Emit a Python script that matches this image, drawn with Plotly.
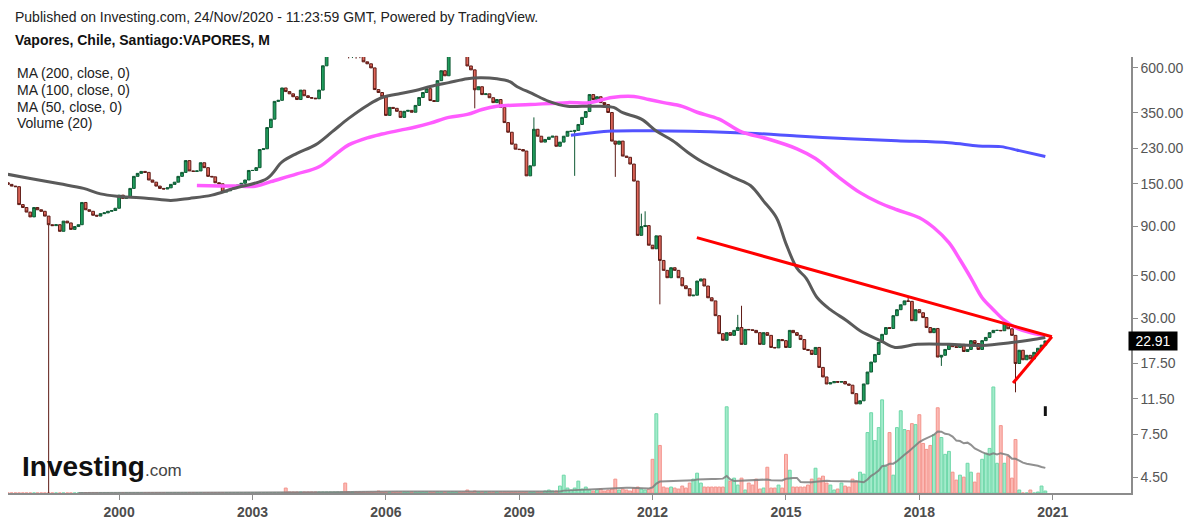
import numpy as np
import pandas as pd
import plotly.graph_objects as go

# ---------------- data ----------------
# Monthly closes (CLP). First bar Jul-1997, last bar Nov-2020.
close_1997 = [149, 146, 145, 117, 113, 107]
close_1998 = [101, 113, 110, 108, 102, 92, 91, 92, 85, 96, 94, 87]
close_1999 = [90, 92, 120, 110, 108, 103, 102, 105, 106, 108, 109, 112]
close_2000 = [131, 126, 128, 142, 164, 170, 174, 172, 157, 153, 146, 142]
close_2001 = [141, 143, 149, 153, 164, 172, 198, 175, 174, 175, 193, 182]
close_2002 = [164, 163, 152, 150, 136, 138, 141, 144, 148, 151, 157, 176]
close_2003 = [176, 182, 226, 228, 294, 325, 402, 407, 472, 452, 440, 425]
close_2004 = [411, 460, 430, 421, 418, 415, 460, 615, 700, 800, 850, 880]
close_2005 = [900, 820, 760, 790, 740, 720, 645, 630, 600, 463, 447, 425]
close_2006 = [340, 374, 370, 357, 332, 357, 361, 353, 383, 421, 447, 468]
close_2007 = [406, 402, 515, 580, 546, 700, 760, 800, 780, 740, 614, 586]
close_2008 = [462, 479, 436, 440, 420, 396, 411, 374, 312, 278, 241, 227]
close_2009 = [226, 222, 165, 186, 288, 265, 247, 255, 262, 265, 235, 247]
close_2010 = [265, 281, 281, 284, 305, 332, 356, 436, 411, 425, 396, 387]
close_2011 = [352, 250, 241, 250, 209, 206, 190, 155, 81, 90, 91, 72]
close_2012 = [69, 80.5, 60, 53.3, 48.8, 55, 53.3, 48.8, 44.3, 42.8, 39.3, 39.6]
close_2013 = [46.9, 48.1, 44.2, 38.4, 37.0, 31.0, 25.0, 23.1, 25.3, 24.5, 26.0, 26.9]
close_2014 = [22.0, 26.3, 26.2, 26.0, 25.3, 22.0, 25.3, 24.5, 21.2, 21.1, 23.3, 23.0]
close_2015 = [21.2, 26.0, 25.3, 24.5, 23.3, 20.7, 20.5, 19.5, 21.2, 16.7, 14.9, 13.7]
close_2016 = [13.9, 14.1, 14.0, 14.1, 13.7, 13.5, 12.2, 10.8, 11.2, 13.7, 15.8, 17.8]
close_2017 = [19.5, 22.5, 24.8, 26.9, 26.6, 31.0, 33.3, 35.3, 37.0, 36.8, 29.2, 33.3]
close_2018 = [32.1, 30.3, 26.9, 25.3, 26.6, 18.9, 19.3, 20.7, 22.2, 21.4, 21.2, 22.0]
close_2019 = [20.2, 20.7, 23.0, 22.2, 20.7, 23.0, 23.9, 25.3, 26.0, 26.0, 25.9, 28.2]
close_2020 = [26.5, 24.5, 17.5, 20.5, 18.3, 19.3, 18.5, 20.0, 21.0, 21.8, 22.91]
first_open = 152

# visible wick extremes (month -> price)
wick_high = {"2009-05": 332, "2011-10": 105, "2011-11": 108, "2013-12": 31.3,
             "2014-01": 34.9, "2017-10": 38.5}
wick_low = {"1998-06": 3.0, "2005-03": 672, "2005-04": 675, "2005-05": 670,
            "2005-06": 674, "2008-01": 370, "2010-04": 165, "2011-03": 163,
            "2012-03": 35.5, "2018-07": 17.0, "2020-03": 12.4}

# monthly volume (relative units)
vol_1997 = [0, 0, 0, 0, 0, 0]
vol_1998 = [0, 0, 0, 0, 0, 0, 0, 0, 0, 0, 0, 0]
vol_1999 = [0, 0, 0, 0, 0, 0, 0, 0, 0, 0, 0, 0]
vol_2000 = [0, 0, 0, 0, 0, 0, 0, 0, 0, 0, 0, 0]
vol_2001 = [0, 0, 0, 0, 0, 0, 0, 0, 0, 0, 0, 0]
vol_2002 = [0, 0, 0, 0, 0, 0, 0, 0, 0, 0, 0, 0]
vol_2003 = [0, 0, 0, 0, 0, 0, 0, 0, 0, 5, 1, 1]
vol_2004 = [1, 1, 1, 1, 1, 1, 1, 1, 1, 1, 1, 1]
vol_2005 = [1, 10, 1, 1, 1, 1, 1, 1, 1, 1, 2, 1]
vol_2006 = [1, 1, 1, 1, 1, 1, 1, 1, 1, 1, 1, 1]
vol_2007 = [1, 1, 1, 1, 1, 1, 1, 1, 1, 1, 3, 1]
vol_2008 = [2, 1, 1, 1, 1, 1, 1, 1, 1, 1, 1, 1]
vol_2009 = [1, 1, 1, 1, 1, 1, 1, 2, 3, 2, 2, 7]
vol_2010 = [18, 5, 3, 5, 12, 4, 6, 3, 2, 3, 4, 2]
vol_2011 = [3, 4, 14, 3, 4, 3, 2, 5, 6, 4, 3, 4]
vol_2012 = [34, 80, 48, 6, 5, 6, 5, 4, 7, 5, 10, 14]
vol_2013 = [20, 10, 6, 6, 6, 6, 6, 6, 87, 12, 15, 8]
vol_2014 = [15, 3, 10, 8, 14, 4, 5, 26, 5, 5, 8, 5]
vol_2015 = [39, 23, 6, 6, 6, 6, 8, 14, 25, 15, 17, 10]
vol_2016 = [8, 3, 4, 10, 7, 6, 14, 12, 21, 19, 61, 81]
vol_2017 = [53, 66, 94, 27, 61, 18, 66, 83, 64, 63, 70, 69]
vol_2018 = [79, 50, 44, 48, 59, 86, 56, 39, 42, 21, 13, 18]
vol_2019 = [16, 30, 21, 11, 20, 34, 40, 45, 107, 30, 68, 30]
vol_2020 = [37, 15, 54, 3, 0, 0, 3, 0, 1, 7, 2]

# moving averages as drawn on the chart
ma50_dates = ["1997-07-01", "1998-01-01", "1998-09-01", "1999-03-15", "1999-08-01",
              "2000-01-01", "2000-09-01", "2001-03-01", "2001-08-01", "2002-02-01",
              "2002-08-01", "2003-05-01", "2003-09-01", "2004-01-01", "2004-06-01",
              "2004-10-15", "2005-03-01", "2005-08-01", "2005-12-01", "2006-05-01",
              "2006-09-01", "2007-01-01", "2007-06-01", "2007-11-01", "2008-02-15",
              "2008-07-01", "2008-10-15", "2008-12-15", "2009-04-15", "2009-09-01",
              "2010-02-01", "2010-06-01", "2010-11-01", "2011-02-15", "2011-05-01",
              "2011-10-01", "2012-02-01", "2012-06-15", "2012-10-15", "2013-02-01",
              "2013-07-01", "2013-11-15", "2014-03-15", "2014-07-01", "2014-10-15",
              "2015-01-01", "2015-04-01", "2015-06-15", "2015-09-15", "2016-01-01",
              "2016-05-15", "2016-09-01", "2017-02-15", "2017-06-15", "2017-12-15",
              "2018-09-01", "2019-06-01", "2020-01-15", "2020-07-01", "2020-11-01"]
ma50_vals = [168, 160, 150, 142, 133, 129, 126, 123, 126, 131,
             142, 160, 195, 216, 239, 279, 328, 383, 421, 442,
             458, 480, 503, 527, 533, 527, 509, 479, 442, 402,
             379, 379, 379, 374, 351, 325, 282, 251, 219, 197,
             176, 160, 147, 122, 100, 73.4, 54.7, 48.6, 38.4, 33.3,
             29.2, 25.9, 23.0, 21.2, 22.0, 22.0, 21.7, 22.4, 23.2, 23.9]

ma100_dates = ["2001-10-01", "2002-08-01", "2003-02-01", "2003-06-01", "2004-01-01",
               "2004-07-01", "2004-12-01", "2005-03-01", "2005-08-01", "2005-12-01",
               "2006-05-01", "2006-09-01", "2007-01-01", "2007-06-01", "2007-11-01",
               "2008-03-01", "2008-07-01", "2009-04-01", "2010-02-01", "2010-08-01",
               "2011-02-01", "2011-08-01", "2011-12-01", "2012-04-01", "2012-09-01",
               "2013-01-01", "2013-07-01", "2014-01-01", "2014-08-01", "2015-04-01",
               "2015-09-01", "2016-03-01", "2016-09-01", "2017-02-01", "2017-07-01",
               "2018-01-01", "2018-05-01", "2018-09-01", "2018-12-01", "2019-03-01",
               "2019-06-01", "2019-09-01", "2019-12-01", "2020-03-01", "2020-07-01",
               "2020-11-01"]
ma100_vals = [147, 146, 146, 154, 169, 184, 218, 239, 260, 272,
              285, 296, 310, 332, 344, 365, 379, 387, 396, 396,
              421, 426, 411, 396, 379, 353, 325, 279, 257, 228,
              203, 164, 135, 120, 110, 100, 88.7, 74.2, 60.5, 48.6,
              38.4, 33.3, 29.3, 26.9, 25.3, 24.4]

ma200_dates = ["2010-03-01", "2011-02-01", "2012-05-01", "2014-03-01", "2015-04-01",
               "2016-06-01", "2017-07-01", "2018-09-01", "2019-05-01", "2019-11-01",
               "2020-04-01", "2020-11-01"]
ma200_vals = [268, 282, 282, 275, 266, 257, 251, 245, 236, 234, 223, 208]

# hand-drawn triangle (red lines)
trend_dates = ["2012-12-30", "2020-12-25"]
trend_vals = [78.8, 24.1]
support_dates = ["2020-02-10", "2020-12-25"]
support_vals = [13.85, 24.1]

price_ticks = [4.5, 7.5, 11.5, 17.5, 30, 50, 90, 150, 230, 350, 600]

# ---------------- build series ----------------
closes = (close_1997 + close_1998 + close_1999 + close_2000 + close_2001 + close_2002 +
          close_2003 + close_2004 + close_2005 + close_2006 + close_2007 + close_2008 +
          close_2009 + close_2010 + close_2011 + close_2012 + close_2013 + close_2014 +
          close_2015 + close_2016 + close_2017 + close_2018 + close_2019 + close_2020)
volumes = (vol_1997 + vol_1998 + vol_1999 + vol_2000 + vol_2001 + vol_2002 + vol_2003 +
           vol_2004 + vol_2005 + vol_2006 + vol_2007 + vol_2008 + vol_2009 + vol_2010 +
           vol_2011 + vol_2012 + vol_2013 + vol_2014 + vol_2015 + vol_2016 + vol_2017 +
           vol_2018 + vol_2019 + vol_2020)
dates = pd.date_range("1997-07-01", periods=len(closes), freq="MS")
opens = [first_open] + closes[:-1]
highs = [max(o, c) for o, c in zip(opens, closes)]
lows = [min(o, c) for o, c in zip(opens, closes)]
for i, k in enumerate(dates.strftime("%Y-%m")):
    if k in wick_high:
        highs[i] = wick_high[k]
    if k in wick_low:
        lows[i] = wick_low[k]

up = [c >= o for o, c in zip(opens, closes)]
vol_fill = ["#a3ebcb" if u else "#fbbab5" for u in up]
vol_edge = ["#6fd8a9" if u else "#f4948c" for u in up]
vol_ma = pd.Series(volumes, dtype=float).rolling(20, min_periods=20).mean()

# ---------------- figure ----------------
PL, PR, PT, PB = 8, 1131, 57, 497


def paper_xy(px, py):
    return (px - PL) / (PR - PL), (PB - py) / (PB - PT)


fig = go.Figure()
fig.add_trace(go.Bar(x=dates, y=volumes, yaxis="y",
                     marker=dict(color=vol_fill, line=dict(color=vol_edge, width=1)),
                     hoverinfo="skip"))
fig.add_trace(go.Scatter(x=dates, y=vol_ma, yaxis="y", mode="lines",
                         line=dict(color="rgba(125,125,125,0.85)", width=2),
                         hoverinfo="skip"))
fig.add_trace(go.Candlestick(x=dates, open=opens, high=highs, low=lows, close=closes,
                             yaxis="y2", whiskerwidth=0,
                             increasing=dict(line=dict(color="#0f5a34", width=1),
                                             fillcolor="#1f9d5c"),
                             decreasing=dict(line=dict(color="#5e1b16", width=1),
                                             fillcolor="#e0675a")))
fig.add_trace(go.Scatter(x=ma200_dates, y=ma200_vals, yaxis="y2", mode="lines",
                         line=dict(color="#5353ff", width=3, shape="spline")))
fig.add_trace(go.Scatter(x=ma100_dates, y=ma100_vals, yaxis="y2", mode="lines",
                         line=dict(color="#ff5cff", width=3.5, shape="spline")))
fig.add_trace(go.Scatter(x=ma50_dates, y=ma50_vals, yaxis="y2", mode="lines",
                         line=dict(color="#5a5a5a", width=3, shape="spline")))
fig.add_trace(go.Scatter(x=trend_dates, y=trend_vals, yaxis="y2", mode="lines",
                         line=dict(color="#ff0000", width=3)))
fig.add_trace(go.Scatter(x=support_dates, y=support_vals, yaxis="y2", mode="lines",
                         line=dict(color="#ff0000", width=3)))
fig.add_trace(go.Scatter(x=[dates[-1]], y=[9.9], yaxis="y2", mode="markers",
                         marker=dict(symbol="line-ns", size=7,
                                     line=dict(color="#111", width=3))))

annotations = []
hx, hy = paper_xy(13, 17)
annotations.append(dict(x=hx, y=hy, text="Published on Investing.com, 24/Nov/2020 - 11:23:59 GMT, Powered by TradingView.",
                        font=dict(size=14, color="#222")))
hx, hy = paper_xy(13, 40)
annotations.append(dict(x=hx, y=hy, text="<b>Vapores, Chile, Santiago:VAPORES, M</b>",
                        font=dict(size=14, color="#111")))
for i, lbl in enumerate(["MA (200, close, 0)", "MA (100, close, 0)", "MA (50, close, 0)", "Volume (20)"]):
    lx, ly = paper_xy(15, 73 + 17 * i)
    annotations.append(dict(x=lx, y=ly, text=lbl, font=dict(size=14, color="#222")))
gx, gy = paper_xy(20, 470)
annotations.append(dict(x=gx, y=gy,
                        text="<b>Investing</b><span style='font-size:17px;color:#444;font-weight:normal'>.com</span>",
                        font=dict(size=28, color="#111")))
for a in annotations:
    a.update(xref="paper", yref="paper", xanchor="left", yanchor="middle", showarrow=False)

annotations.append(dict(xref="paper", x=1.0, xshift=-3, xanchor="left",
                        yref="y2", y=float(np.log10(closes[-1])), yanchor="middle",
                        text=f"{closes[-1]:.2f}", showarrow=False,
                        width=46, height=16, align="center",
                        bgcolor="#000000", borderpad=1,
                        font=dict(size=14, color="#ffffff")))

fig.update_layout(
    width=1193, height=528,
    margin=dict(l=PL, r=1193 - PR, t=PT, b=528 - PB),
    paper_bgcolor="white", plot_bgcolor="white",
    showlegend=False, boxgap=0.2, boxgroupgap=0, bargap=0.15,
    font=dict(family="Liberation Sans, Arial, sans-serif"),
    annotations=annotations,
    xaxis=dict(type="date", range=["1997-07-02", "2022-10-06"],
               tick0="2000-01-01", dtick="M36", tickformat="%Y",
               showgrid=False, zeroline=False, showline=True,
               linecolor="#8c8c8c", linewidth=2, ticks="outside", ticklen=5,
               tickcolor="#8c8c8c",
               tickfont=dict(size=14, color="#4d4d4d", weight="bold"),
               rangeslider=dict(visible=False)),
    yaxis=dict(range=[0, 440], visible=False, fixedrange=True),
    yaxis2=dict(type="log", overlaying="y", side="right", anchor="x",
                range=[0.5705, 2.8347], tickvals=price_ticks,
                ticktext=[f"{v:.2f}" for v in price_ticks],
                showgrid=False, zeroline=False, showline=True,
                linecolor="#8c8c8c", linewidth=1.5, ticks="outside", ticklen=5,
                tickcolor="#8c8c8c", tickfont=dict(size=14, color="#555555")),
)

fig.write_html("out.html", config={"displayModeBar": False},
               post_script="document.body.style.margin='0';document.body.style.overflow='hidden';")
